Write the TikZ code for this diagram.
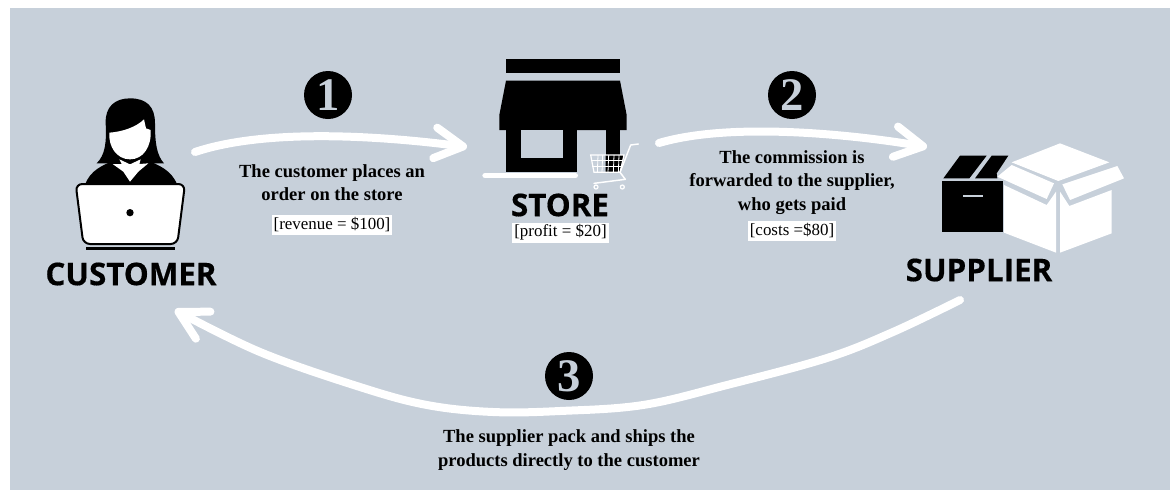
\documentclass[tikz,border=0pt]{standalone}
\usepackage{fontspec}
\setmainfont{Liberation Serif}
\newfontfamily\headfont{Open Sans}[BoldFeatures={FakeBold=0.4}]
\usetikzlibrary{positioning, arrows.meta}
\definecolor{panel}{HTML}{C7D0DA}
\begin{document}
\begin{tikzpicture}[
    x=0.75pt, y=-0.75pt,
    node distance=3pt and 3pt,
    icon/.style={fill=black},
    hole/.style={fill=panel},
    cutout/.style={fill=white},
    title/.style={font=\headfont\bfseries\fontsize{23.5}{26}\selectfont, inner sep=0pt},
    stepdot/.style={circle, fill=black, text=panel, minimum size=36pt, inner sep=0pt, font=\bfseries\fontsize{35}{35}\selectfont},
    note/.style={font=\bfseries\fontsize{13.9}{17.6}\selectfont, align=center, inner sep=0pt},
    amount/.style={fill=white, font=\fontsize{12.7}{14}\selectfont, inner sep=1.5pt, minimum height=15pt},
    flow/.style={draw=white, line width=6pt, line cap=round, line join=round, -{Straight Barb[length=21pt, width=23pt, round]}},
]
\useasboundingbox (0,0) rectangle (1170,494);
\fill[panel] (10,8) rectangle (1170,490);

% Customer icon
\begin{scope}[shift={(40,70)}, x=0.25pt, y=-0.25pt]
  \fill[icon] (135,345) .. controls (150,300) and (190,285) .. (225,270) -- (320,270) .. controls (355,285) and (395,300) .. (412,345) -- cycle;
  \fill[icon] (170,280) .. controls (195,255) and (200,220) .. (197,160) .. controls (195,110) and (225,85) .. (270,85) .. controls (320,85) and (345,110) .. (345,160) .. controls (345,220) and (350,255) .. (372,280) -- cycle;
  \fill[cutout] (208,188) .. controls (250,185) and (290,170) .. (312,148) -- (318,175) -- (332,180) .. controls (335,230) and (310,268) .. (270,268) .. controls (230,268) and (205,230) .. (208,188) -- cycle;
  \fill[cutout] (218,282) -- (245,282) -- (238,268) -- (270,283) -- (302,268) -- (298,282) -- (325,280) -- (295,305) -- (270,335) -- (250,305) -- cycle;
  \draw[cutout, draw=black, line width=1.5pt, rounded corners=5pt] (107,342) -- (435,342) -- (412,522) -- (130,522) -- cycle;
  \fill[icon] (270,428) circle (11);
  \draw[line width=2.2pt] (138,536) -- (405,536);
\end{scope}
\node[title] (customer) at (131,274) {CUSTOMER};

% Store icon
\begin{scope}[shift={(470,40)}, x=0.25pt, y=-0.25pt]
  \fill[icon] (108,58) rectangle (450,100);
  \fill[icon] (108,122) -- (450,122) -- (470,225) -- (470,270) -- (88,270) -- (88,225) -- cycle;
  \fill[icon] (108,270) rectangle (322,397);
  \fill[hole] (152,270) rectangle (280,355);
  \fill[icon] (407,270) rectangle (450,345);
  \draw[white, line width=4pt, line cap=round] (45,407) -- (316,407);
  % cart
  \fill[icon] (407,345) -- (462,345) -- (450,397) -- (407,397) -- cycle;
  \draw[white, line width=0.9pt] (362,345) -- (462,345) -- (450,397) -- (372,397) -- cycle;
  \foreach \gx in {384,398,416,432,447} \draw[white, line width=0.6pt] (\gx,345) -- (\gx-2,397);
  \foreach \gy in {362,380} \draw[white, line width=0.6pt] (366,\gy) -- (457,\gy);
  \draw[white, line width=1.1pt, line cap=round, line join=round] (505,312) -- (482,315) -- (450,397) -- (466,418) -- (372,430);
  \foreach \gx in {378,457} \draw[white, line width=0.9pt] (\gx,441) circle (6);
\end{scope}
\node[title] (store) at (560,205) {STORE};
\node[amount] (profit) at (560.5,232.5) {[profit = \$20]};

% Supplier icon
\begin{scope}[shift={(900,120)}, x=0.25pt, y=-0.25pt]
  \fill[icon] (127,182) rectangle (308,336);
  \draw[panel, line width=1.6pt] (190,228) -- (250,228);
  \fill[icon] (130,175) -- (180,107) -- (260,107) -- (208,175) -- cycle;
  \fill[icon] (225,175) -- (275,107) -- (325,107) -- (290,160) -- (292,175) -- cycle;
  \fill[cutout] (335,127) -- (480,70) -- (628,127) -- (475,183) -- cycle;
  \fill[cutout] (292,170) -- (335,135) -- (462,190) -- (440,237) -- cycle;
  \fill[cutout] (487,193) -- (652,138) -- (672,175) -- (510,240) -- cycle;
  \fill[cutout] (312,195) -- (440,255) -- (468,215) -- (468,398) -- (312,338) -- cycle;
  \fill[cutout] (480,215) -- (508,258) -- (635,210) -- (635,340) -- (480,398) -- cycle;
\end{scope}
\node[title] (supplier) at (979,270) {SUPPLIER};

% Step 1
\node[stepdot] (one) at (328,95) {1};
\node[note, below=33.5pt of one, xshift=3pt] (placenote) {The customer places an\\order on the store};
\node[amount, below=10pt of placenote] (revenue) {[revenue = \$100]};

% Step 2
\node[stepdot] (two) at (792,95) {2};
\node[note, below=23pt of two] (paynote) {The commission is\\forwarded to the supplier,\\who gets paid};
\node[amount, below=4.5pt of paynote] (costs) {[costs =\$80]};

% Step 3
\node[stepdot] (three) at (569,376) {3};
\node[note, below=22pt of three] (shipnote) {The supplier pack and ships the\\products directly to the customer};

% Flow arrows
\coordinate (custout) at (195,152);
\coordinate (storein) at (467,147);
\coordinate (storeout) at (659,143);
\coordinate (suppin) at (927,147);
\coordinate (suppout) at (960,300);
\coordinate (custin) at (175,310);
\draw[flow] (custout) .. controls (270,127) and (390,137) .. (storein);
\draw[flow] (storeout) .. controls (730,122) and (850,134) .. (suppin);
\draw[flow] plot[smooth, tension=0.6] coordinates {(suppout) (893,332) (827,358) (727,385) (643,405) (560,411) (493,412) (427,405) (360,387) (260,352) (custin)};
\end{tikzpicture}
\end{document}
